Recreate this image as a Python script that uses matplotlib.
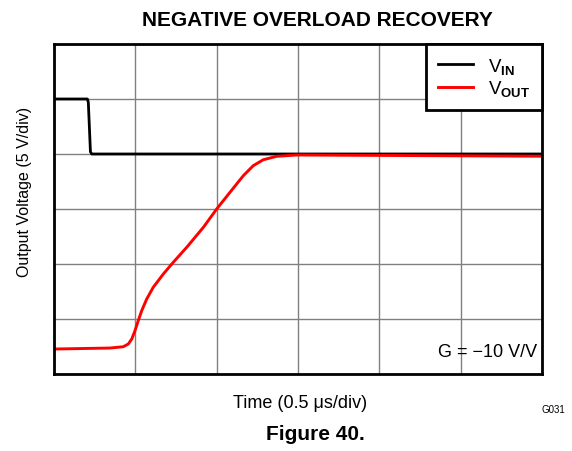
import matplotlib
matplotlib.use("Agg")
import matplotlib.pyplot as plt

plt.rcParams['font.family'] = ['Liberation Sans', 'DejaVu Sans']
plt.rcParams['mathtext.fontset'] = 'custom'
plt.rcParams['mathtext.rm'] = 'Liberation Sans'
plt.rcParams['mathtext.bf'] = 'Liberation Sans:bold'
plt.rcParams['mathtext.it'] = 'Liberation Sans:italic'

# Time axis in microseconds (0.5 us/div, 6 divisions); voltage at 5 V/div
t_in = [0.0, 0.205, 0.211, 0.224, 0.232, 3.0]
v_in = [10.0, 10.0, 9.7, 5.2, 5.0, 5.0]

t_out = [0.0, 0.344, 0.426, 0.457, 0.478, 0.498, 0.518, 0.539, 0.570, 0.610,
         0.672, 0.733, 0.816, 0.918, 1.000, 1.082, 1.164, 1.225, 1.287, 1.369,
         1.492, 3.0]
v_out = [-12.73, -12.64, -12.52, -12.27, -11.82, -11.06, -10.15, -9.25, -8.18, -7.12,
         -5.91, -4.85, -3.48, -1.67, 0.0, 1.52, 3.03, 3.94, 4.48, 4.79,
         4.91, 4.80]

x_grid = [0.0, 0.5, 1.0, 1.5, 2.0, 2.5, 3.0]
y_grid = [-15, -10, -5, 0, 5, 10, 15]

fig = plt.figure(figsize=(5.72, 4.52), dpi=100)
ax = fig.add_axes([54 / 572, 1 - 375 / 452, 488 / 572, 330 / 452])

ax.plot(t_in, v_in, color='black', lw=2.0, label=r'V$_{\mathbf{IN}}$', zorder=3)
ax.plot(t_out, v_out, color='#ff0000', lw=2.1, label=r'V$_{\mathbf{OUT}}$', zorder=4,
        solid_joinstyle='round')

ax.set_xlim(0, 3)
ax.set_ylim(-15, 15)
ax.set_xticks(x_grid)
ax.set_yticks(y_grid)
ax.tick_params(which='both', length=0, labelleft=False, labelbottom=False)
ax.grid(True, color='#808080', lw=1.0, zorder=1)
ax.set_axisbelow(True)
for s in ax.spines.values():
    s.set_linewidth(2.0)
    s.set_color('black')
    s.set_zorder(6)

leg = ax.legend(loc='upper right', borderaxespad=0, fancybox=False,
                edgecolor='black', framealpha=1, fontsize=13.5,
                handlelength=1.9, handletextpad=0.8, borderpad=0.62,
                labelspacing=0.15)
leg.get_frame().set_linewidth(2.0)
leg.set_zorder(7)

ax.text(0.989, 0.067, 'G = \u221210 V/V', transform=ax.transAxes,
        ha='right', va='center', fontsize=13)

fig.text(317 / 572, 1 - 20 / 452, 'NEGATIVE OVERLOAD RECOVERY',
         ha='center', va='center', fontsize=15, fontweight='bold')
fig.text(25 / 572, 1 - 192 / 452, 'Output Voltage (5 V/div)',
         ha='center', va='center', rotation=90, fontsize=11.5)
fig.text(300 / 572, 1 - 404 / 452, 'Time (0.5 \u03bcs/div)',
         ha='center', va='center', fontsize=13)
fig.text(315 / 572, 1 - 435 / 452, 'Figure 40.',
         ha='center', va='center', fontsize=15, fontweight='bold')
fig.text(553 / 572, 1 - 410 / 452, 'G031',
         ha='center', va='center', fontsize=7)

fig.savefig('out.png', dpi=100)
